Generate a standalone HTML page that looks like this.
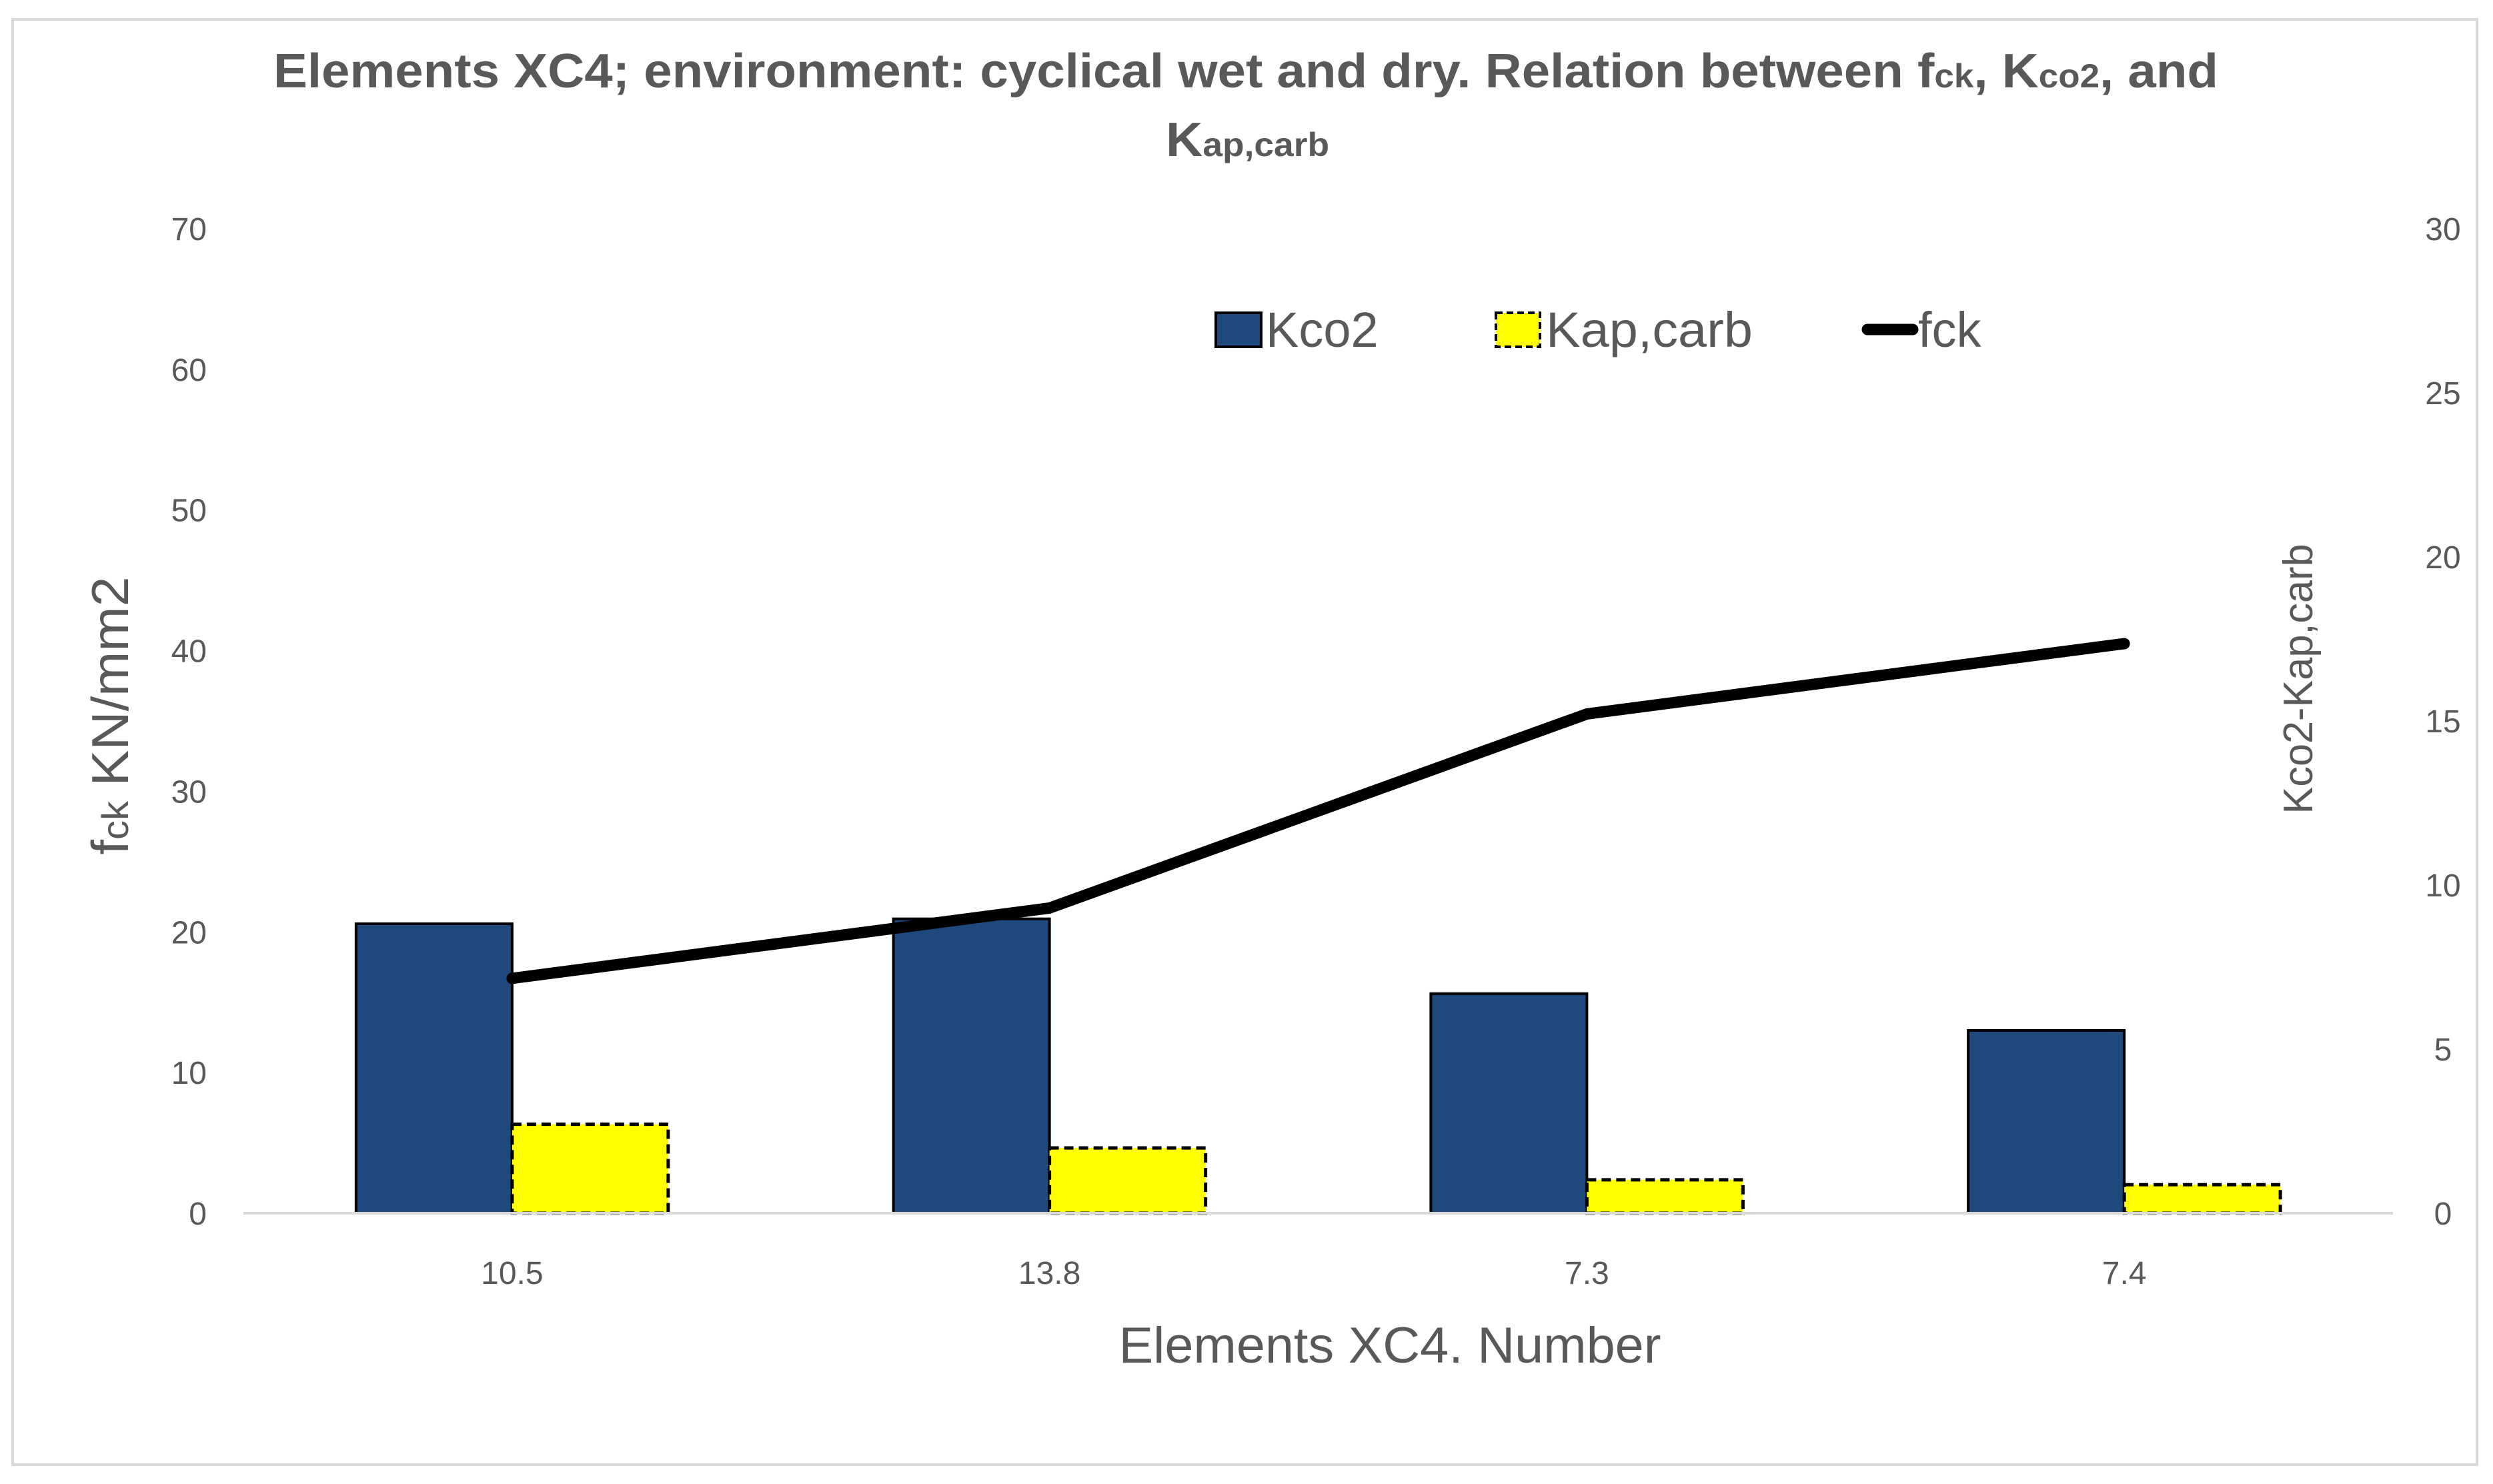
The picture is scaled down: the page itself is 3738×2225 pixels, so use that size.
<!DOCTYPE html>
<html><head><meta charset="utf-8">
<style>
html,body{margin:0;padding:0;background:#fff;}
svg{display:block;}
text{font-family:"Liberation Sans",sans-serif;fill:#595959;}
</style></head>
<body>
<svg id="chart" width="3738" height="2225" viewBox="0 0 3738 2225" xmlns="http://www.w3.org/2000/svg">
<rect x="19" y="29" width="3695" height="2167" fill="#fff" stroke="#d9d9d9" stroke-width="4"/>
<text x="1868" y="131" text-anchor="middle" font-size="72" font-weight="bold" textLength="2916" lengthAdjust="spacingAndGlyphs">Elements XC4; environment: cyclical wet and dry. Relation between f<tspan font-size="50">ck</tspan>, K<tspan font-size="50">co2</tspan>, and</text>
<text x="1748" y="234" font-size="72" font-weight="bold" textLength="245" lengthAdjust="spacingAndGlyphs">K<tspan font-size="50">ap,carb</tspan></text>
<g id="grid"></g>
<g id="bars"></g>
<g id="line"></g>
<g id="axes"></g>
<text transform="translate(192,1073) rotate(-90)" text-anchor="middle" font-size="78" textLength="417" lengthAdjust="spacingAndGlyphs">f<tspan font-size="56">ck</tspan> KN/mm2</text>
<text transform="translate(3467,1018) rotate(-90)" text-anchor="middle" font-size="62" textLength="405" lengthAdjust="spacingAndGlyphs">Kco2-Kap,carb</text>
<text x="2084" y="2043" text-anchor="middle" font-size="76" textLength="813" lengthAdjust="spacingAndGlyphs">Elements XC4. Number</text>
<g>
<rect x="1823" y="469" width="68" height="51" fill="#1f497d" stroke="#000" stroke-width="4"/>
<text x="1898" y="520" font-size="74">Kco2</text>
<rect x="2243" y="469" width="66" height="51" fill="#ffff00" stroke="#000" stroke-width="4" stroke-dasharray="10,6"/>
<text x="2318" y="520" font-size="74" textLength="310" lengthAdjust="spacingAndGlyphs">Kap,carb</text>
<line x1="2800" y1="494" x2="2868" y2="494" stroke="#000" stroke-width="17" stroke-linecap="round"/>
<text x="2876" y="520" font-size="74">fck</text>
</g>
</svg>
<script>
const categories = ["10.5", "13.8", "7.3", "7.4"];
const kco2 = [8.82, 8.97, 6.69, 5.57];
const kapcarb = [2.71, 1.99, 1.02, 0.87];
const fck = [16.7, 21.7, 35.5, 40.5];
const leftTicks = [0, 10, 20, 30, 40, 50, 60, 70];
const rightTicks = [0, 5, 10, 15, 20, 25, 30];

const NS = "http://www.w3.org/2000/svg";
const X0 = 365, X1 = 3588, Y0 = 1819, YT = 343;
const catW = (X1 - X0) / categories.length;
const barW = 234;
function xC(i){ return X0 + catW * (i + 0.5); }
function yL(v){ return Y0 - (v / 70) * (Y0 - YT); }
function yR(v){ return Y0 - (v / 30) * (Y0 - YT); }
function mk(tag, attrs, parent){ const e = document.createElementNS(NS, tag); for (const k in attrs) e.setAttribute(k, attrs[k]); parent.appendChild(e); return e; }

const axes = document.getElementById('axes');
const bars = document.getElementById('bars');
const lineG = document.getElementById('line');

leftTicks.forEach(t => {
  const e = mk('text', {x: 310, y: yL(t) + 17, 'text-anchor': 'end', 'font-size': 48}, axes);
  e.textContent = t;
  
  
});
rightTicks.forEach(t => {
  const e = mk('text', {x: 3663, y: yR(t) + 17, 'text-anchor': 'middle', 'font-size': 48}, axes);
  e.textContent = t;
  
  
});
categories.forEach((c, i) => {
  const e = mk('text', {x: xC(i), y: 1925, 'text-anchor': 'middle', 'font-size': 48}, axes);
  e.textContent = c;
  
  
});

kco2.forEach((v, i) => {
  const y = yR(v);
  const r = mk('rect', {x: xC(i) - barW, y: y, width: barW, height: Y0 - y, fill: '#1f497d', stroke: '#000', 'stroke-width': 4}, bars);
  
  
});
kapcarb.forEach((v, i) => {
  const y = yR(v);
  const r = mk('rect', {x: xC(i), y: y, width: barW, height: Y0 - y, fill: '#ffff00', stroke: '#000', 'stroke-width': 5, 'stroke-dasharray': '14,8'}, bars);
  
  
});

const baseline = mk('line', {x1: X0, y1: Y0, x2: X1, y2: Y0, stroke: '#d9d9d9', 'stroke-width': 4}, axes);



const pts = fck.map((v, i) => xC(i) + ',' + yL(v)).join(' ');
const pl = mk('polyline', {points: pts, fill: 'none', stroke: '#000', 'stroke-width': 17, 'stroke-linecap': 'round', 'stroke-linejoin': 'round'}, lineG);


</script>
</body></html>
